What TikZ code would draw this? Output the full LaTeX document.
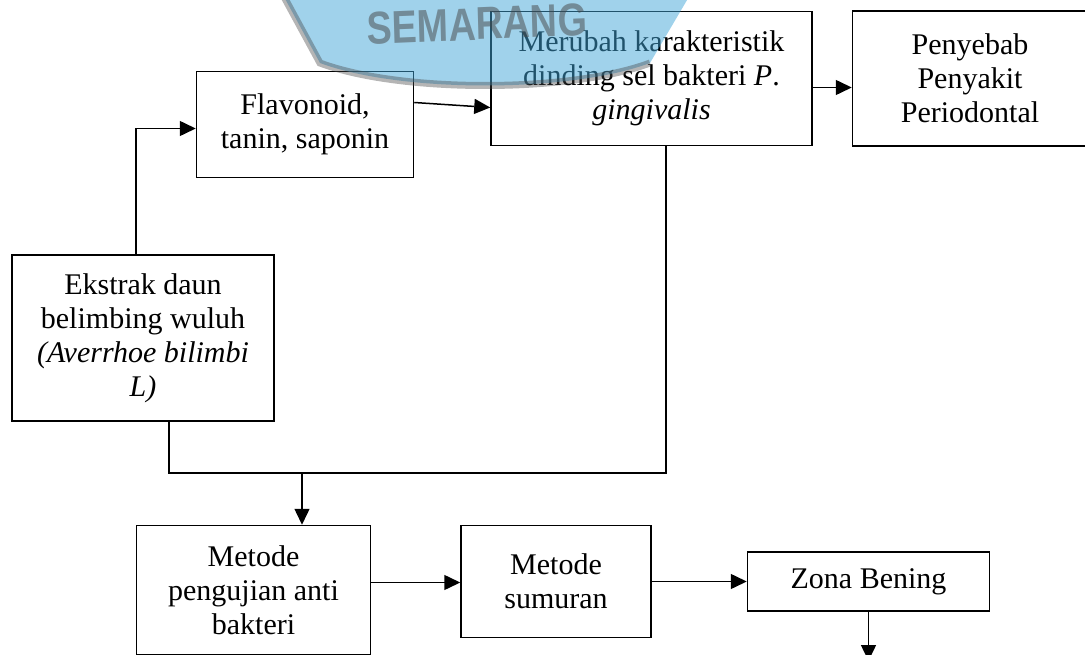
\documentclass[tikz,border=0pt]{standalone}
\usepackage{fontspec}
\setmainfont{Liberation Serif}
\newfontfamily\wmfont{Liberation Sans}
\usepackage{xcolor}
\usetikzlibrary{arrows.meta,positioning}
\definecolor{wmblue}{RGB}{65,165,215}
\definecolor{wmgray}{RGB}{70,70,70}

\begin{document}
\begin{tikzpicture}[x=1pt, y=-1pt,
    box/.style={draw, line width=1.5pt, inner sep=0pt, align=center, font=\fontsize{30}{34}\selectfont},
    arr/.style={-{Triangle[length=16pt,width=15pt]}, line width=1.5pt},
    link/.style={line width=1.5pt}]
  \useasboundingbox (0,0) rectangle (1085,655);

  \node[box, minimum width=262pt, minimum height=166pt] (ekstrak) at (143,338) {Ekstrak daun\\belimbing wuluh\\\textit{(Averrhoe bilimbi}\\\textit{L)}};
  \node[box, minimum width=217pt, minimum height=106pt, above right=76pt and -79pt of ekstrak] (flav) {Flavonoid,\\tanin, saponin};
  \node[box, minimum width=321pt, minimum height=134pt, right=76pt of flav, yshift=46pt] (merubah) {Merubah karakteristik\\dinding sel bakteri \textit{P}.\\\textit{gingivalis}};
  \node[box, minimum width=235pt, minimum height=135pt, right=39pt of merubah] (penyebab) {Penyebab\\Penyakit\\Periodontal};
  \node[box, minimum width=234pt, minimum height=129pt, below right=103pt and -139pt of ekstrak] (uji) {Metode\\pengujian anti\\bakteri};
  \node[box, minimum width=190pt, minimum height=112pt, right=89pt of uji, yshift=8.5pt] (sumuran) {Metode\\sumuran};
  \node[box, minimum width=242pt, minimum height=59pt, right=95pt of sumuran] (zona) {Zona Bening};

  \coordinate (join) at (302,473);
  \coordinate (end) at (865,661);

  \draw[arr] ([xshift=-7pt]ekstrak.north) |- ([yshift=-4pt]flav.west);
  \draw[arr] ([yshift=22pt]flav.east) -- ([yshift=-29pt]merubah.west);
  \draw[arr] ([yshift=-9pt]merubah.east) -- ([yshift=-9pt]merubah.east -| penyebab.west);
  \draw[link] ([xshift=26pt]ekstrak.south) |- (join) -| ([xshift=14.5pt]merubah.south);
  \draw[arr] (join) -- (join |- uji.north);
  \draw[arr] ([yshift=7.5pt]uji.east) -- ([yshift=7.5pt]uji.east -| sumuran.west);
  \draw[arr] (sumuran.east) -- (zona.west);
  \draw[arr] (zona.south) -- (zona.south |- end);

  \fill[wmblue, opacity=0.5] (283,-5) -- (320,63) .. controls (400,93) and (570,93) .. (650,63) -- (690,-5) -- cycle;
  \draw[wmgray, opacity=0.4, line width=7pt] (283,-5) -- (320,63) .. controls (400,93) and (570,93) .. (650,63);
  \node[wmgray, opacity=0.5, font=\wmfont\bfseries\fontsize{46}{46}\selectfont, xscale=0.82, rotate=2] (wmtext) at (477,24) {SEMARANG};
\end{tikzpicture}
\end{document}
